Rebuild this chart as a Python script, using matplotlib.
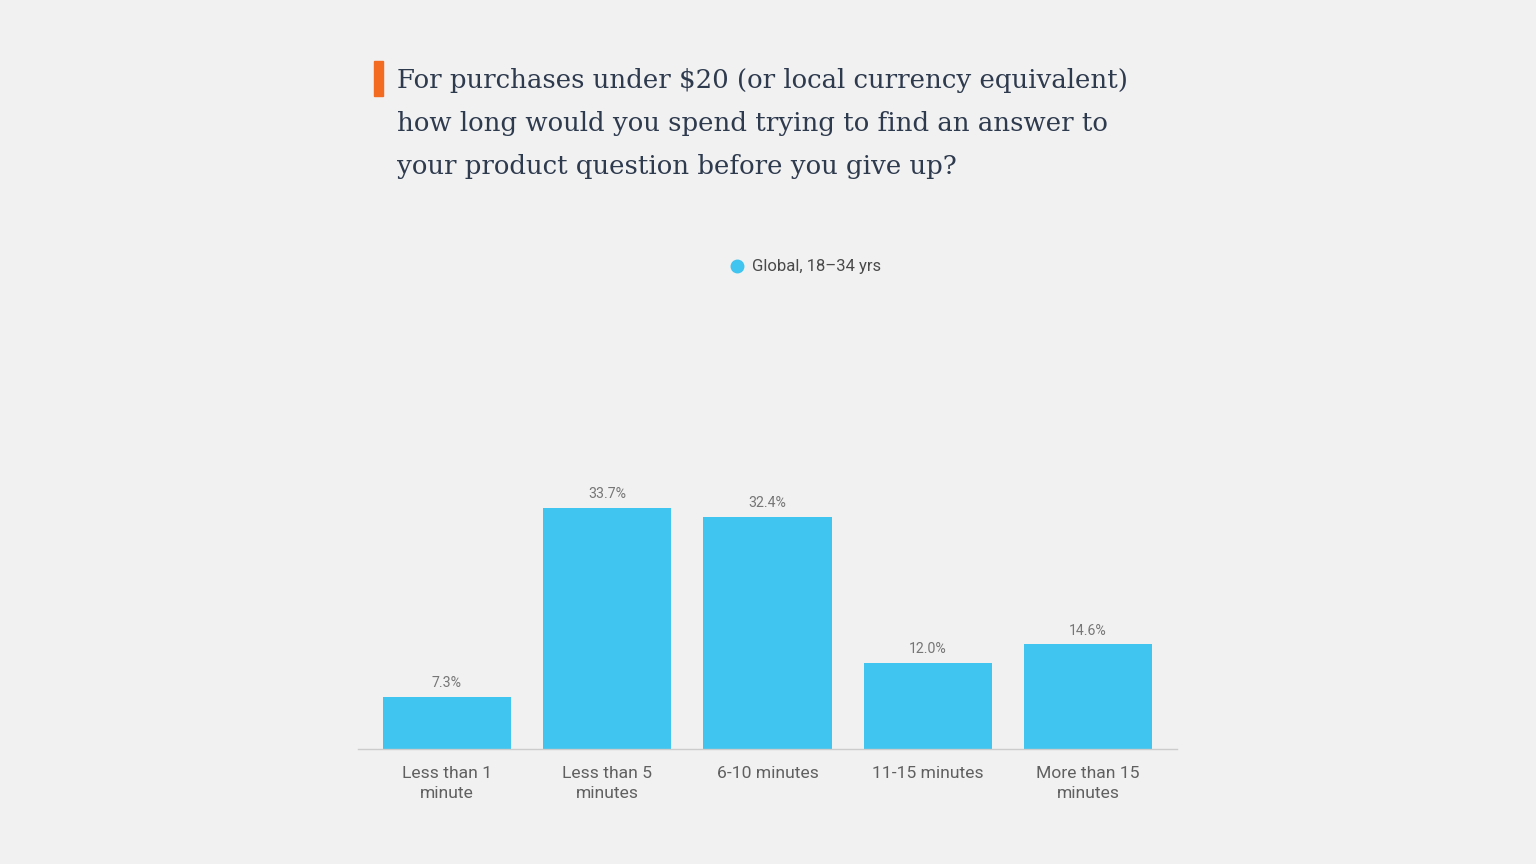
import matplotlib.pyplot as plt
from matplotlib.patches import Rectangle
from matplotlib.lines import Line2D

# data
categories = ["Less than 1\nminute", "Less than 5\nminutes", "6-10 minutes",
              "11-15 minutes", "More than 15\nminutes"]
values = [7.3, 33.7, 32.4, 12.0, 14.6]
series_name = "Global, 18\u201334 yrs"
title_lines = ["For purchases under $20 (or local currency equivalent)",
               "how long would you spend trying to find an answer to",
               "your product question before you give up?"]

BG = "#f1f1f1"
BAR = "#40c4f0"
W, H = 1536, 864

fig = plt.figure(figsize=(W / 100, H / 100), dpi=100, facecolor=BG)

# axes placed in pixel coords: x 358..1177, baseline y 749, top y 300
ax = fig.add_axes([358 / W, 1 - 749 / H, (1177 - 358) / W, (749 - 300) / H])
ax.set_facecolor(BG)
x = list(range(len(values)))
ax.bar(x, values, width=0.8, color=BAR)
ax.set_xlim(-0.555, len(values) - 1 + 0.555)
ax.set_ylim(0, (749 - 300) / 7.16)

for xi, v in zip(x, values):
    ax.annotate(f"{v:.1f}%", (xi, v), xytext=(0, 5), textcoords="offset points",
                ha="center", va="bottom", fontsize=10.2, color="#767676",
                family="Roboto")

for s in ["top", "right", "left"]:
    ax.spines[s].set_visible(False)
ax.spines["bottom"].set_color("#cccccc")
ax.spines["bottom"].set_linewidth(1)
ax.set_yticks([])
ax.set_xticks(x)
ax.set_xticklabels(categories, fontsize=12.6, color="#606060", family="Roboto",
                   linespacing=1.45)
ax.tick_params(axis="x", length=0, pad=12)

# legend
leg = ax.legend([Line2D([], [], marker="o", ls="none", color=BAR, markersize=9)],
                [series_name], loc="center", bbox_to_anchor=(805 / W, 1 - 267 / H),
                bbox_transform=fig.transFigure, frameon=False,
                prop={"family": "Roboto", "size": 12}, handletextpad=0.4,
                handlelength=1.0)
for t in leg.get_texts():
    t.set_color("#4a4a4a")

# title with orange marker
fig.patches.append(Rectangle((374 / W, 1 - 96 / H), 9 / W, 35 / H,
                             transform=fig.transFigure, color="#f26b21"))
for i, line in enumerate(title_lines):
    fig.text(397 / W, 1 - (88 + 43 * i) / H, line, ha="left", va="baseline",
             fontsize=18.7, color="#2e3a4e", family="DejaVu Serif")

fig.savefig("out.png", dpi=100, facecolor=BG)
